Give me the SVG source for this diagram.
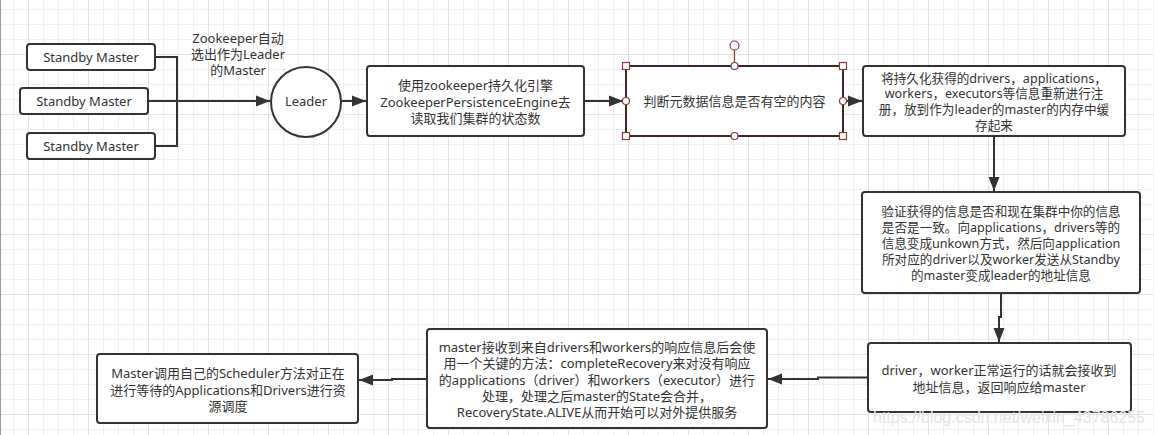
<svg xmlns="http://www.w3.org/2000/svg" width="1154" height="435" viewBox="0 0 1154 435">
<defs>
<pattern id="grid" patternUnits="userSpaceOnUse" x="28" y="54" width="60" height="60">
<path d="M15.5,0V60M30.5,0V60M45.5,0V60M0,15.5H60M0,30.5H60M0,45.5H60" stroke="#efefef" stroke-width="1" fill="none"/>
<path d="M0.5,0V60M0,0.5H60" stroke="#e2e2e2" stroke-width="1" fill="none"/>
</pattern>
<marker id="arr" markerUnits="userSpaceOnUse" markerWidth="15" markerHeight="12" refX="14" refY="6" orient="auto">
<path d="M0,0.5 L14,6 L0,11.5 z" fill="#333"/>
</marker>
<style>
.box{fill:#fff;stroke:#333;stroke-width:2}
.t{font-family:"Noto Sans","Noto Sans CJK SC",sans-serif;font-size:13px;fill:#333;text-anchor:middle;dominant-baseline:central}
.s{font-size:12.6px}
.c{fill:none;stroke:#333;stroke-width:2}
.h{fill:#fff;stroke:#8b3a3a;stroke-width:1.2}
</style>
</defs>
<rect x="0" y="0" width="1154" height="435" fill="#fff"/>
<rect x="0" y="0" width="1154" height="435" fill="url(#grid)"/>
<line x1="0.5" y1="0" x2="0.5" y2="435" stroke="#999" stroke-width="1"/>

<g id="connectors">
<path class="c" d="M155,57 H177 V146 H155"/>
<path class="c" d="M148,101 H270" marker-end="url(#arr)"/>
<path class="c" d="M342,101 H366" marker-end="url(#arr)"/>
<path class="c" d="M584,101 H623" marker-end="url(#arr)"/>
<path class="c" d="M843,101 H862" marker-end="url(#arr)"/>
<path class="c" d="M994,136 V191" marker-end="url(#arr)"/>
<path class="c" d="M1001,293 V317 H999 V342" marker-end="url(#arr)"/>
<path class="c" d="M868,377.5 H818 V379 H768" marker-end="url(#arr)"/>
<path class="c" d="M427,379 H392 V380 H359" marker-end="url(#arr)"/>
</g>

<g id="standby1">
<rect class="box" x="27" y="44" width="128" height="26" rx="3"/>
<text class="t" x="91" y="57">Standby Master</text>
</g>
<g id="standby2">
<rect class="box" x="20" y="88" width="128" height="26" rx="3"/>
<text class="t" x="84" y="101">Standby Master</text>
</g>
<g id="standby3">
<rect class="box" x="27" y="133" width="128" height="26" rx="3"/>
<text class="t" x="91" y="146">Standby Master</text>
</g>

<g id="label-zk">
<text class="t" x="238" y="38">Zookeeper自动</text>
<text class="t" x="238" y="54">选出作为Leader</text>
<text class="t" x="238" y="70">的Master</text>
</g>

<g id="leader">
<circle class="box" cx="306" cy="102" r="35"/>
<text class="t" x="306" y="101">Leader</text>
</g>

<g id="read-state">
<rect class="box" x="367" y="66" width="217" height="70" rx="3"/>
<text class="t" x="475.5" y="85">使用zookeeper持久化引擎</text>
<text class="t" x="475.5" y="102">ZookeeperPersistenceEngine去</text>
<text class="t" x="475.5" y="118">读取我们集群的状态数</text>
</g>

<g id="check-empty">
<rect x="626" y="66" width="217" height="70" fill="#fff" stroke="#3f2626" stroke-width="2"/>
<text class="t" x="734.5" y="101">判断元数据信息是否有空的内容</text>
<line x1="734.5" y1="50" x2="734.5" y2="63" stroke="#8b3a3a" stroke-width="1.2"/>
<circle class="h" cx="734.5" cy="45.5" r="4.5"/>
<rect class="h" x="622.5" y="62.5" width="7" height="7"/>
<rect class="h" x="839.5" y="62.5" width="7" height="7"/>
<rect class="h" x="622.5" y="132.5" width="7" height="7"/>
<rect class="h" x="839.5" y="132.5" width="7" height="7"/>
<circle class="h" cx="734.5" cy="66" r="3.5"/>
<circle class="h" cx="734.5" cy="136" r="3.5"/>
<circle class="h" cx="626" cy="101" r="3.5"/>
<circle class="h" cx="843" cy="101" r="3.5"/>
</g>

<g id="register">
<rect class="box" x="863" y="66" width="262" height="70" rx="3"/>
<text class="t s" x="994" y="78">将持久化获得的drivers，applications，</text>
<text class="t s" x="994" y="93.7">workers，executors等信息重新进行注</text>
<text class="t s" x="994" y="109.4">册，放到作为leader的master的内存中缓</text>
<text class="t s" x="994" y="125">存起来</text>
</g>

<g id="verify">
<rect class="box" x="862" y="192" width="278" height="101" rx="3"/>
<text class="t s" x="1001" y="211">验证获得的信息是否和现在集群中你的信息</text>
<text class="t s" x="1001" y="227">是否是一致。向applications，drivers等的</text>
<text class="t s" x="1001" y="243">信息变成unkown方式，然后向application</text>
<text class="t s" x="1001" y="259">所对应的driver以及worker发送从Standby</text>
<text class="t s" x="1001" y="275">的master变成leader的地址信息</text>
</g>

<g id="respond">
<rect class="box" x="868" y="343" width="263" height="69" rx="3"/>
<text class="t" x="999" y="370">driver，worker正常运行的话就会接收到</text>
<text class="t" x="999" y="387">地址信息，返回响应给master</text>
</g>

<g id="recovery">
<rect class="box" x="427" y="329" width="340" height="99" rx="3"/>
<text class="t" x="597" y="347">master接收到来自drivers和workers的响应信息后会使</text>
<text class="t" x="597" y="363">用一个关键的方法：completeRecovery来对没有响应</text>
<text class="t" x="597" y="380">的applications（driver）和workers（executor）进行</text>
<text class="t" x="597" y="396">处理，处理之后master的State会合并，</text>
<text class="t" x="597" y="412">RecoveryState.ALIVE从而开始可以对外提供服务</text>
</g>

<g id="schedule">
<rect class="box" x="97" y="354" width="261" height="69" rx="3"/>
<text class="t" x="228" y="373">Master调用自己的Scheduler方法对正在</text>
<text class="t" x="228" y="390">进行等待的Applications和Drivers进行资</text>
<text class="t" x="228" y="406">源调度</text>
</g>

<text x="873" y="423" font-family="Liberation Sans, sans-serif" font-size="16" fill="#e4e4e4" textLength="272" lengthAdjust="spacingAndGlyphs">https://blog.csdn.net/weixin_43786255</text>
</svg>
